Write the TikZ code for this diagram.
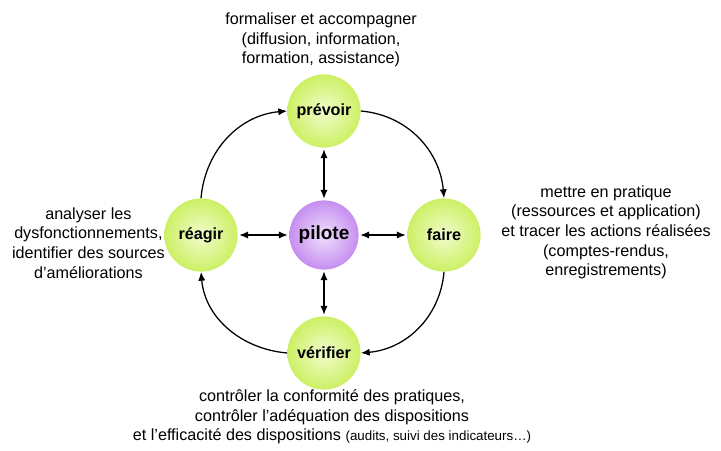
\documentclass[tikz,border=0pt]{standalone}
\usepackage{fontspec}
\setmainfont{Liberation Sans}
\usetikzlibrary{arrows.meta}

\definecolor{vertbord}{RGB}{204,240,100}
\definecolor{vertcentre}{RGB}{242,252,205}
\definecolor{violetbord}{RGB}{198,142,240}
\definecolor{violetcentre}{RGB}{240,224,252}

\begin{document}
\begin{tikzpicture}[
    etape/.style={circle, minimum size=1.83cm, inner sep=0pt, inner color=vertcentre, outer color=vertbord, font=\fontsize{11.5}{14}\selectfont\bfseries},
    centre/.style={circle, minimum size=1.73cm, inner sep=0pt, inner color=violetcentre, outer color=violetbord, font=\fontsize{13.5}{16}\selectfont\bfseries},
    legende/.style={align=center, font=\fontsize{11.5}{14}\selectfont},
    fleche/.style={-{Latex[length=2.2mm, width=1.8mm]}, line width=0.9pt},
    lien/.style={{Latex[length=2.2mm, width=1.8mm]}-{Latex[length=2.2mm, width=1.8mm]}, line width=0.9pt, shorten <=1pt, shorten >=1pt}
  ]
    \useasboundingbox (0, 0) rectangle (18.025, 11.25);

    % noeuds
    \node[centre] (pilote) at (8.1, 5.375) {pilote};
    \node[etape] (prevoir) at (8.1, 8.475) {prévoir};
    \node[etape] (faire) at (11.1, 5.375) {faire};
    \node[etape] (verifier) at (8.1, 2.425) {vérifier};
    \node[etape] (reagir) at (5.025, 5.375) {réagir};

    % cycle
    \draw[fleche] (prevoir.east) to[out=-5, in=95] (faire.north);
    \draw[fleche] (faire.south) to[out=-95, in=5] (verifier.east);
    \draw[fleche] (verifier.west) to[out=175, in=-85] (reagir.south);
    \draw[fleche] (reagir.north) to[out=85, in=185] (prevoir.west);

    % liens avec le pilote
    \draw[lien] (pilote) -- (prevoir);
    \draw[lien] (pilote) -- (faire);
    \draw[lien] (pilote) -- (verifier);
    \draw[lien] (pilote) -- (reagir);

    % legendes
    \node[legende] (txtprevoir) at (8.025, 10.25) {formaliser et accompagner\\(diffusion, information,\\formation, assistance)};
    \node[legende] (txtfaire) at (15.15, 5.44) {mettre en pratique\\(ressources et application)\\et tracer les actions réalisées\\(comptes-rendus,\\enregistrements)};
    \node[legende] (txtreagir) at (2.21, 5.175) {analyser les\\dysfonctionnements,\\identifier des sources\\d’améliorations};
    \node[legende] (txtverifier) at (8.3, 0.825) {contrôler la conformité des pratiques,\\contrôler l’adéquation des dispositions\\et l’efficacité des dispositions {\fontsize{9.5}{14}\selectfont(audits, suivi des indicateurs…)}};
  \end{tikzpicture}
\end{document}
